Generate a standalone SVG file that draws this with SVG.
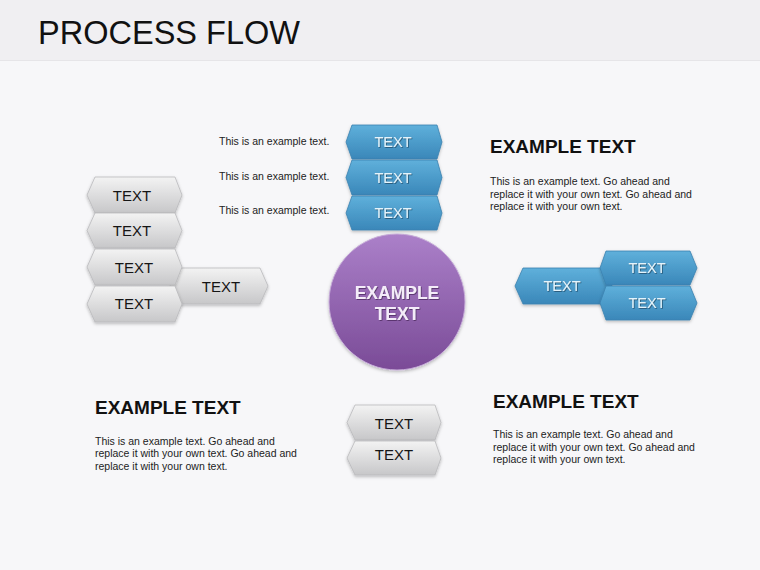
<svg xmlns="http://www.w3.org/2000/svg" width="760" height="570" viewBox="0 0 760 570">
<defs>
<linearGradient id="gGray" x1="0" y1="0" x2="0" y2="1">
<stop offset="0" stop-color="#f3f3f3"/>
<stop offset="1" stop-color="#c7c7c9"/>
</linearGradient>
<linearGradient id="gBlue" x1="0" y1="0" x2="0" y2="1">
<stop offset="0" stop-color="#5fb0db"/>
<stop offset="1" stop-color="#3a87b9"/>
</linearGradient>
<linearGradient id="gPurple" x1="0" y1="0" x2="0" y2="1">
<stop offset="0" stop-color="#ab80c9"/>
<stop offset="1" stop-color="#7a4b97"/>
</linearGradient>
<filter id="shadow" x="-20%" y="-20%" width="140%" height="140%">
<feDropShadow dx="0" dy="1.5" stdDeviation="1.5" flood-color="#000" flood-opacity="0.25"/>
</filter>
<filter id="tshadow" x="-10%" y="-30%" width="120%" height="160%">
<feDropShadow dx="0.8" dy="0.8" stdDeviation="0.6" flood-color="#1c3f58" flood-opacity="0.8"/>
</filter>
<filter id="pshadow" x="-10%" y="-30%" width="120%" height="160%">
<feDropShadow dx="0.8" dy="0.8" stdDeviation="0.7" flood-color="#3d2150" flood-opacity="0.8"/>
</filter>
</defs>
<style>
.gray{fill:url(#gGray);stroke:#b9b9bb;stroke-width:0.8;filter:url(#shadow)}
.blue{fill:url(#gBlue);stroke:#3b82b0;stroke-width:0.8;filter:url(#shadow)}
.gt{font-family:"Liberation Sans",Arial,sans-serif;font-size:15px;fill:#151515;text-anchor:middle}
.bt{font-family:"Liberation Sans",Arial,sans-serif;font-size:14.5px;fill:#e4f4fc;text-anchor:middle;filter:url(#tshadow)}
.small{font-family:"Liberation Sans",Arial,sans-serif;font-size:10.5px;fill:#222}
.head{font-family:"Liberation Sans",Arial,sans-serif;font-size:19px;font-weight:bold;fill:#111}
</style>
<rect x="0" y="0" width="760" height="570" fill="#f7f7f9"/>
<rect x="0" y="0" width="760" height="60" fill="#f0eff2"/>
<line x1="0" y1="60.5" x2="760" y2="60.5" stroke="#e6e5e8" stroke-width="1"/>
<text x="38" y="44" font-family="'Liberation Sans',Arial,sans-serif" font-size="33" fill="#111" textLength="262" lengthAdjust="spacingAndGlyphs">PROCESS FLOW</text>

<g id="side-labels">
<text class="small" x="219" y="144.5">This is an example text.</text>
<text class="small" x="219" y="180">This is an example text.</text>
<text class="small" x="219" y="213.5">This is an example text.</text>
</g>

<g id="top-blue-1"><polygon class="blue" points="352,125 437,125 442,142 437,159 352,159 346,142"/><text class="bt" x="393" y="147">TEXT</text></g>
<g id="top-blue-2"><polygon class="blue" points="352,160 437,160 442,177.5 437,195 352,195 346,177.5"/><text class="bt" x="393" y="182.5">TEXT</text></g>
<g id="top-blue-3"><polygon class="blue" points="352,196 437,196 442,213 437,230 352,230 346,213"/><text class="bt" x="393" y="218">TEXT</text></g>

<g id="left-big"><polygon class="gray" points="177,268 260,268 268,286 260,304 177,304 170,286"/><text class="gt" x="221" y="291.5">TEXT</text></g>
<g id="left-1"><polygon class="gray" points="95,177 175,177 182,195 175,213 95,213 87,195"/><text class="gt" x="132" y="200.5">TEXT</text></g>
<g id="left-2"><polygon class="gray" points="95,213 175,213 182,230.5 175,248 95,248 87,230.5"/><text class="gt" x="132" y="236">TEXT</text></g>
<g id="left-3"><polygon class="gray" points="95,249 175,249 182,267 175,285 95,285 87,267"/><text class="gt" x="134" y="272.5">TEXT</text></g>
<g id="left-4"><polygon class="gray" points="95,286 175,286 182,304 175,322 95,322 87,304"/><text class="gt" x="134" y="309">TEXT</text></g>

<g id="right-blue-left"><polygon class="blue" points="523,268 605,268 612,286 605,304 523,304 515,286"/><text class="bt" x="562" y="291">TEXT</text></g>
<g id="right-blue-top"><polygon class="blue" points="606,251 690,251 697,268 690,285 606,285 600,268"/><text class="bt" x="647" y="273">TEXT</text></g>
<g id="right-blue-bottom"><polygon class="blue" points="606,286 690,286 697,303 690,320 606,320 600,303"/><text class="bt" x="647" y="308">TEXT</text></g>

<g id="center">
<circle cx="397" cy="302" r="68" fill="url(#gPurple)" stroke="#c6acd8" stroke-width="1" filter="url(#shadow)"/>
<text x="397" y="299" font-family="'Liberation Sans',Arial,sans-serif" font-size="17.5" font-weight="bold" fill="#f4ecf9" text-anchor="middle" filter="url(#pshadow)">EXAMPLE</text>
<text x="397" y="319.5" font-family="'Liberation Sans',Arial,sans-serif" font-size="17.5" font-weight="bold" fill="#f4ecf9" text-anchor="middle" filter="url(#pshadow)">TEXT</text>
</g>

<g id="bottom-1"><polygon class="gray" points="355,405 435,405 441,422.5 435,440 355,440 347,422.5"/><text class="gt" x="394" y="428.5">TEXT</text></g>
<g id="bottom-2"><polygon class="gray" points="355,441 435,441 441,458 435,475 355,475 347,458"/><text class="gt" x="394" y="459.5">TEXT</text></g>

<g id="text-top-right">
<text class="head" x="490" y="153">EXAMPLE TEXT</text>
<text class="small" x="490" y="185">This is an example text. Go ahead and</text>
<text class="small" x="490" y="197.5">replace it with your own text. Go ahead and</text>
<text class="small" x="490" y="210">replace it with your own text.</text>
</g>
<g id="text-bottom-left">
<text class="head" x="95" y="414">EXAMPLE TEXT</text>
<text class="small" x="95" y="444.5">This is an example text. Go ahead and</text>
<text class="small" x="95" y="457">replace it with your own text. Go ahead and</text>
<text class="small" x="95" y="469.5">replace it with your own text.</text>
</g>
<g id="text-bottom-right">
<text class="head" x="493" y="408">EXAMPLE TEXT</text>
<text class="small" x="493" y="438">This is an example text. Go ahead and</text>
<text class="small" x="493" y="450.5">replace it with your own text. Go ahead and</text>
<text class="small" x="493" y="463">replace it with your own text.</text>
</g>
<g id="connectors"/>
</svg>
